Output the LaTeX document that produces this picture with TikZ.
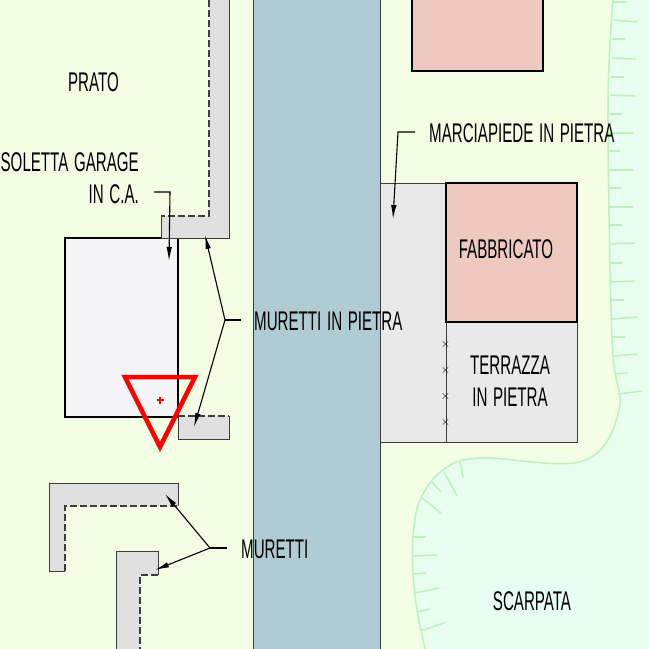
\documentclass[tikz,border=0pt]{standalone}
\usepackage{fontspec}
\usetikzlibrary{arrows.meta}
\newfontfamily\labelfont[FakeStretch=0.56,WordSpace=1.35]{Liberation Sans}
\definecolor{pratocol}{HTML}{F2FFE4}
\definecolor{scarpatacol}{HTML}{E8FFF0}
\definecolor{bordocol}{HTML}{BFF0BF}
\definecolor{stradacol}{HTML}{B0CBD4}
\definecolor{murocol}{HTML}{E0E0E0}
\definecolor{pietracol}{HTML}{E9E9E9}
\definecolor{edificiocol}{HTML}{EEC9BF}
\definecolor{solettacol}{HTML}{F5F5F7}
\definecolor{tratto}{HTML}{3C3C3C}
\begin{document}
\begin{tikzpicture}[
    x=1pt, y=-1pt,
    testo/.style = {font=\labelfont\fontsize{27}{32}\selectfont, inner sep=0pt, text=black},
    muro/.style = {fill=murocol, draw=none},
    bordo/.style = {draw=tratto, line width=1pt},
    bordodash/.style = {draw=tratto, line width=1.1pt, dash pattern=on 7pt off 3pt},
    spesso/.style = {draw=black, line width=2.2pt},
    leader/.style = {draw=black, line width=1.1pt},
    freccia/.style = {leader, -{Latex[length=14pt,width=5.5pt]}},
    scarpa/.style = {draw=bordocol, line width=1.5pt}
  ]
    \useasboundingbox (0,0) rectangle (649,649);
    \fill[pratocol] (0,0) rectangle (649,649);

    % scarpata
    \fill[scarpatacol] plot[smooth, tension=0.6] coordinates {(613,0) (608,110) (612,340) (619,410) (583,461) (480,458) (443,470) (420,500) (413,537) (413,573) (417,610) (425,649)} -- (649,649) -- (649,0) -- cycle;
    \draw[scarpa] plot[smooth, tension=0.6] coordinates {(613,0) (608,110) (612,340) (619,410) (583,461) (480,458) (443,470) (420,500) (413,537) (413,573) (417,610) (425,649)};
    \foreach \xa/\ya/\xb/\yb in {613/2/627/2, 613/20/638/22, 612/39/625/39, 612/58/636/59, 611/77/624/77, 610/95/635/96, 609/114/622/114,
      608/133/633/133, 608/151/620/151, 608/170/633/170, 609/188/621/188, 609/207/633/207, 610/225/622/225, 610/244/635/243, 611/263/622/263,
      611/282/635/281, 611/300/624/300, 612/319/637/317, 612/337/625/337, 614/356/638/354, 615/374/628/373, 618/394/642/391,
      460/462/463/477, 444/472/457/496, 432/482/441/492, 422/498/442/514, 413/537/426/537, 413/556/437/555, 413/574/426/573, 415/593/439/588, 417/612/430/609, 421/631/446/622}
      \draw[scarpa] (\xa,\ya) -- (\xb,\yb);

    % strada
    \fill[stradacol] (253,0) rectangle (380,649);

    % marciapiede e terrazza
    \fill[pietracol] (380,183) rectangle (577,442);
    \draw[bordo] (380,183) -- (446,183);
    \draw[bordo] (380,442) -- (577,442) -- (577,322);
    \draw[bordo] (446,322) -- (446,442);
    \foreach \y in {344,370,396,422}
      \node[font=\fontsize{13}{13}\selectfont, inner sep=0pt, text=black] (x\y) at (445.5,\y) {$\times$};
    \draw[bordo] (253,0) -- (253,649);
    \draw[bordo] (380,0) -- (380,649);

    % fabbricati
    \draw[spesso, fill=edificiocol] (446,183) rectangle (577,322);
    \draw[spesso, fill=edificiocol] (412,-5) rectangle (543,71);

    % soletta
    \draw[spesso, fill=solettacol] (65,238) rectangle (178,417);

    % muretti
    \fill[muro] (161,238) -- (229,238) -- (229,0) -- (209,0) -- (209,216) -- (161,216) -- cycle;
    \draw[bordo] (161,216) -- (161,238) -- (229,238) -- (229,0);
    \draw[bordodash] (209,0) -- (209,216) -- (161,216);

    \fill[muro] (178,416) rectangle (229,439);
    \draw[bordo] (178,416) -- (178,439) -- (229,439) -- (229,416);
    \draw[bordodash] (178,416) -- (229,416);

    \fill[muro] (49,483) -- (178,483) -- (178,506) -- (65,506) -- (65,571) -- (49,571) -- cycle;
    \draw[bordo] (178,506) -- (178,483) -- (49,483) -- (49,571) -- (65,571);
    \draw[bordodash] (65,571) -- (65,506) -- (178,506);

    \fill[muro] (116,649) -- (116,551) -- (158,551) -- (158,575) -- (140,575) -- (140,649) -- cycle;
    \draw[bordo] (116,649) -- (116,551) -- (158,551) -- (158,575);
    \draw[bordodash] (158,575) -- (140,575) -- (140,649);

    % testi
    \node[testo, anchor=center] (prato) at (93.5,82) {PRATO};
    \node[testo, anchor=east, align=right] (soletta) at (139,178) {SOLETTA GARAGE\\IN C.A.};
    \node[testo, anchor=west] (mpietra) at (254,321) {MURETTI IN PIETRA};
    \node[testo, anchor=west] (marcia) at (429,133) {MARCIAPIEDE IN PIETRA};
    \node[testo] (fabb) at (506,249) {FABBRICATO};
    \node[testo, align=center] (terr) at (510,381) {TERRAZZA\\IN PIETRA};
    \node[testo, anchor=west] (mur) at (241,549) {MURETTI};
    \node[testo] (scarp) at (532,601) {SCARPATA};

    % frecce
    \coordinate (mj) at (225,320);
    \coordinate (mjs) at (241,320);
    \coordinate (mt1) at (205,235);
    \coordinate (mt2) at (194,427);
    \draw[leader] (mjs) -- (mj);
    \draw[freccia] (mj) -- (mt1);
    \draw[freccia] (mj) -- (mt2);

    \coordinate (sj) at (154,192);
    \coordinate (sk) at (170,192);
    \coordinate (st) at (169,261);
    \draw[freccia] (sj) -- (sk) -- (st);

    \coordinate (ms) at (415,132);
    \coordinate (mk) at (398,132);
    \coordinate (mf) at (393,219);
    \draw[freccia] (ms) -- (mk) -- (mf);

    \coordinate (rj) at (210,548);
    \coordinate (rs) at (227,548);
    \coordinate (rt1) at (165,494);
    \coordinate (rt2) at (155,570);
    \draw[leader] (rs) -- (rj);
    \draw[freccia] (rj) -- (rt1);
    \draw[freccia] (rj) -- (rt2);

    % segnale
    \coordinate (ta) at (125,377);
    \coordinate (tb) at (195,377);
    \coordinate (tc) at (160,447);
    \draw[red, line width=4.5pt, miter limit=10] (ta) -- (tb) -- (tc) -- cycle;
    \draw[red, line width=1.4pt] (156.5,400) -- (163.5,400) (160,396.5) -- (160,403.5);
\end{tikzpicture}
\end{document}
